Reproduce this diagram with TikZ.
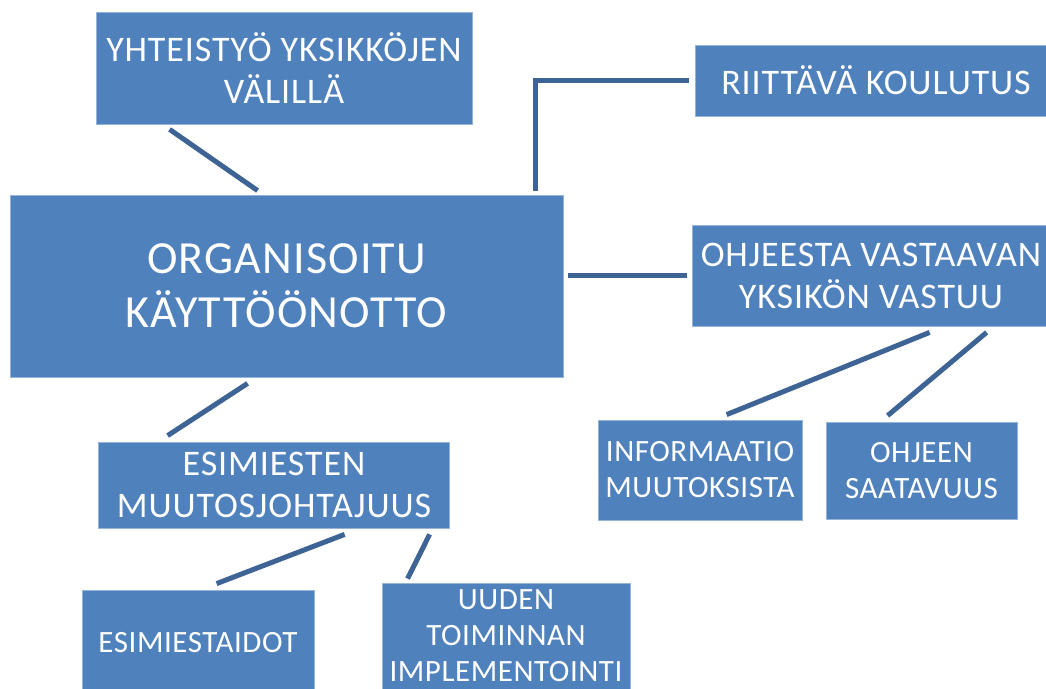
\documentclass[tikz,border=0pt]{standalone}
\usepackage{fontspec}
\setmainfont{Carlito}
\newfontfamily\bigboxfont{Carlito}[LetterSpace=2.6]
\newfontfamily\midboxfont{Carlito}[LetterSpace=2.5]
\newfontfamily\smallboxfont{Carlito}[LetterSpace=1.8]
\usetikzlibrary{calc}
\definecolor{boxblue}{RGB}{79,129,189}
\definecolor{lineblue}{RGB}{62,100,150}
\definecolor{boxedge}{RGB}{150,180,218}
\begin{document}
\begin{tikzpicture}[x=1pt,y=-1pt,
  box/.style={rectangle, fill=boxblue, draw=boxedge, line width=0.8pt, text=white, align=center, inner sep=0pt},
  bigtxt/.style={font=\bigboxfont\fontsize{46}{54}\selectfont},
  midtxt/.style={font=\midboxfont\fontsize{36}{42}\selectfont},
  smalltxt/.style={font=\smallboxfont\fontsize{31}{36}\selectfont},
  conn/.style={draw=lineblue, line width=5pt, line join=miter}]
\useasboundingbox (0,0) rectangle (1046,688);
\clip (0,0) rectangle (1046,688);

\node[box, minimum width=376, minimum height=112, midtxt] (A) at (284,68) {YHTEISTYÖ YKSIKKÖJEN\\VÄLILLÄ};
\node[box, minimum width=553, minimum height=182, bigtxt] (M) at (286.5,286) {ORGANISOITU\\KÄYTTÖÖNOTTO};
\node[box, minimum width=362, minimum height=71, midtxt] (R) at (876,80.5) {RIITTÄVÄ KOULUTUS};
\node[box, minimum width=358, minimum height=101, midtxt] (O) at (871,275.5) {OHJEESTA VASTAAVAN\\YKSIKÖN VASTUU};
\node[box, minimum width=204, minimum height=100, smalltxt] (I) at (700,470) {INFORMAATIO\\MUUTOKSISTA};
\node[box, minimum width=191, minimum height=97, smalltxt] (J) at (921.5,470.5) {OHJEEN\\SAATAVUUS};
\node[box, minimum width=351, minimum height=86, midtxt] (E) at (274,485) {ESIMIESTEN\\MUUTOSJOHTAJUUS};
\node[box, minimum width=232, minimum height=106, smalltxt] (T) at (198,643) {ESIMIESTAIDOT};
\node[box, minimum width=248, minimum height=106, smalltxt] (U) at (506,636) {UUDEN\\TOIMINNAN\\IMPLEMENTOINTI};

\draw[conn] ($(A.south west)+(74,5)$) -- ($(M.north west)+(248,-4)$);
\draw[conn] ($(M.north west)+(526,-4)$) |- ($(R.west)+(-6,0)$);
\draw[conn] ($(M.east)+(5,-10.5)$) -- ($(O.west)+(-5,0)$);
\draw[conn] ($(M.south west)+(238,6)$) -- ($(E.north west)+(69.5,-6)$);
\draw[conn] ($(O.south west)+(238,6)$) -- ($(I.north west)+(129,-5)$);
\draw[conn] ($(O.south west)+(295,6)$) -- ($(J.north west)+(62,-6)$);
\draw[conn] ($(E.south west)+(246.5,6)$) -- ($(T.north west)+(135,-6)$);
\draw[conn] ($(E.south west)+(331.5,6)$) -- ($(U.north west)+(26,-4)$);
\end{tikzpicture}
\end{document}
